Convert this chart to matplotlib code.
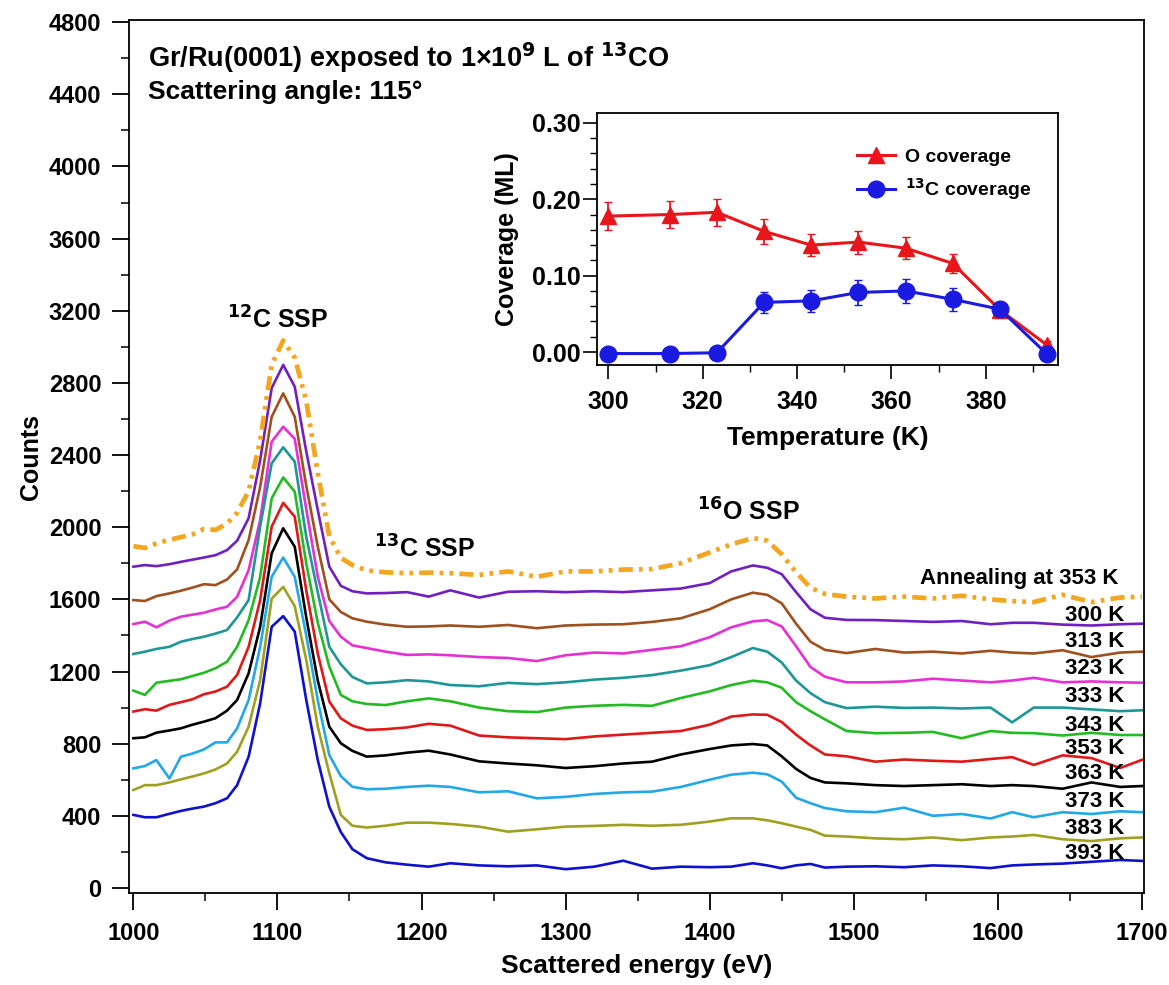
import numpy as np
import matplotlib
matplotlib.use("Agg")
import matplotlib.pyplot as plt
from matplotlib.ticker import MultipleLocator

plt.rcParams['font.family'] = ['Liberation Sans', 'DejaVu Sans']
plt.rcParams['font.weight'] = 'bold'
plt.rcParams['mathtext.default'] = 'bf'

# ---- spectra: shared energy grid (eV) ----
energy = [1000, 1008, 1016, 1025, 1033, 1041, 1049, 1057, 1065, 1072,
          1080, 1088, 1096, 1104, 1112, 1120, 1128, 1136, 1144, 1152, 1162,
          1175, 1190, 1205, 1220, 1240, 1260, 1280, 1300, 1320, 1340, 1360, 1380, 1400,
          1415, 1430, 1440, 1450, 1460, 1470, 1480, 1495,
          1515, 1535, 1555, 1575, 1595, 1610, 1625, 1645, 1665, 1685, 1700]

annealing = [1895, 1885, 1910, 1930, 1945, 1960, 1990, 1985, 2020, 2080,
             2200, 2480, 2900, 3035, 2940, 2700, 2300, 1950, 1830, 1790, 1760,
             1750, 1745, 1748, 1745, 1735, 1755, 1725, 1755, 1755, 1765, 1768, 1800, 1860,
             1905, 1940, 1925, 1850, 1750, 1665, 1630, 1615,
             1605, 1615, 1605, 1620, 1600, 1590, 1585, 1625, 1585, 1610, 1615]
k300 = [1781, 1790, 1784, 1795, 1808, 1820, 1832, 1845, 1873, 1925,
        2050, 2372, 2771, 2900, 2779, 2420, 2095, 1781, 1675, 1645, 1633,
        1635, 1640, 1615, 1650, 1610, 1642, 1645, 1640, 1645, 1640, 1650, 1660, 1690,
        1755, 1788, 1775, 1740, 1640, 1545, 1498, 1486,
        1485, 1480, 1475, 1480, 1462, 1470, 1470, 1460, 1455, 1462, 1465]
k313 = [1596, 1591, 1618, 1633, 1648, 1665, 1684, 1679, 1710, 1766,
        1929, 2224, 2612, 2742, 2612, 2230, 1892, 1600, 1530, 1495, 1476,
        1460, 1448, 1450, 1455, 1448, 1458, 1440, 1455, 1460, 1462, 1475, 1495, 1545,
        1600, 1637, 1625, 1578, 1465, 1365, 1320, 1302,
        1325, 1305, 1310, 1300, 1315, 1305, 1300, 1318, 1280, 1305, 1310]
k323 = [1463, 1476, 1445, 1482, 1504, 1515, 1526, 1544, 1559, 1614,
        1762, 2040, 2474, 2557, 2490, 2100, 1726, 1480, 1393, 1345, 1330,
        1310, 1292, 1295, 1290, 1280, 1275, 1258, 1290, 1305, 1300, 1320, 1340, 1390,
        1445, 1478, 1485, 1450, 1340, 1225, 1171, 1140,
        1140, 1145, 1160, 1150, 1140, 1150, 1165, 1140, 1145, 1140, 1138]
k333 = [1297, 1310, 1325, 1337, 1365, 1380, 1393, 1410, 1430, 1500,
        1596, 2003, 2354, 2443, 2363, 1947, 1640, 1337, 1240, 1170, 1134,
        1140, 1152, 1145, 1125, 1118, 1137, 1130, 1140, 1155, 1165, 1180, 1205, 1235,
        1280, 1330, 1310, 1250, 1150, 1080, 1030, 997,
        1005, 998, 1000, 995, 1000, 918, 1000, 1000, 990, 980, 985]
k343 = [1094, 1070, 1138, 1148, 1157, 1175, 1193, 1218, 1254, 1337,
        1485, 1725, 2160, 2276, 2197, 1800, 1470, 1227, 1070, 1035, 1020,
        1014, 1035, 1051, 1035, 1000, 980, 975, 1000, 1010, 1015, 1010, 1053, 1090,
        1125, 1149, 1140, 1110, 1030, 980, 935, 870,
        858, 860, 865, 830, 870, 860, 858, 845, 860, 848, 848]
k353 = [978, 991, 983, 1015, 1030, 1046, 1074, 1089, 1116, 1181,
        1337, 1596, 2003, 2135, 2058, 1650, 1300, 1033, 940, 900, 876,
        880, 890, 910, 900, 845, 835, 830, 825, 840, 850, 860, 870, 905,
        950, 962, 960, 920, 850, 790, 740, 730,
        700, 712, 705, 700, 715, 725, 682, 735, 720, 665, 710]
k363 = [830, 835, 861, 873, 885, 905, 922, 941, 983, 1042,
        1190, 1448, 1855, 1994, 1892, 1500, 1150, 894, 802, 760, 728,
        735, 750, 761, 740, 702, 690, 680, 665, 675, 690, 700, 740, 770,
        790, 798, 790, 730, 660, 610, 585, 580,
        570, 565, 570, 575, 565, 570, 565, 550, 585, 560, 565]
k373 = [663, 676, 709, 607, 728, 745, 768, 807, 807, 885,
        1042, 1337, 1725, 1832, 1725, 1400, 1040, 737, 620, 561, 547,
        550, 560, 567, 560, 530, 536, 497, 505, 521, 530, 534, 560, 600,
        628, 639, 630, 590, 500, 470, 443, 425,
        420, 445, 400, 410, 385, 420, 392, 420, 410, 425, 420]
k383 = [543, 570, 570, 585, 602, 618, 635, 657, 690, 755,
        894, 1153, 1604, 1669, 1562, 1264, 894, 636, 405, 345, 335,
        345, 362, 362, 355, 340, 312, 325, 340, 344, 350, 345, 350, 368,
        386, 386, 375, 359, 340, 322, 290, 285,
        275, 270, 280, 265, 280, 285, 294, 270, 260, 275, 280]
k393 = [405, 392, 392, 411, 427, 440, 451, 470, 497, 570,
        728, 1024, 1448, 1507, 1421, 1042, 709, 450, 310, 215, 165,
        142, 129, 118, 137, 125, 120, 125, 104, 118, 151, 107, 118, 115,
        118, 137, 125, 109, 125, 133, 113, 118,
        120, 115, 125, 120, 110, 125, 130, 135, 145, 155, 150]

spectra = [k300, k313, k323, k333, k343, k353, k363, k373, k383, k393]
temp_labels = ['300 K', '313 K', '323 K', '333 K', '343 K', '353 K',
               '363 K', '373 K', '383 K', '393 K']
colors = ['#7020C0', '#A0501E', '#E630D6', '#1E9696', '#22BB22', '#E01818',
          '#000000', '#22A8E8', '#A0A020', '#1010D0']
label_y = [1513, 1365, 1219, 1060, 903, 774, 636, 478, 331, 192]

# ---- inset: coverage vs temperature ----
temps = [300, 313, 323, 333, 343, 353, 363, 373, 383, 393]
o_cov = [0.178, 0.180, 0.183, 0.158, 0.140, 0.144, 0.136, 0.116, 0.055, 0.009]
o_err = [0.018, 0.018, 0.018, 0.016, 0.014, 0.015, 0.014, 0.012, 0.010, 0.005]
c_cov = [-0.002, -0.002, -0.001, 0.065, 0.067, 0.078, 0.080, 0.069, 0.056, -0.003]
c_err = [0.002, 0.002, 0.002, 0.014, 0.014, 0.016, 0.016, 0.015, 0.007, 0.003]

fig = plt.figure(figsize=(11.69, 9.85), dpi=100)
ax = fig.add_axes([0.1104, 1 - 893 / 985, 0.8682, 873 / 985])

for vals, c in zip(spectra, colors):
    ax.plot(energy, vals, color=c, lw=1.9)
ax.plot(energy, annealing, color='#F4A621', lw=3.4,
        linestyle=(0, (3, 1.3, 0.8, 1.3, 0.8, 1.3)))

for lab, yy in zip(temp_labels, label_y):
    ax.text(1688, yy, lab, ha='right', va='center', fontsize=16, fontweight='bold')
ax.text(1684, 1718, 'Annealing at 353 K', ha='right', va='center',
        fontsize=16, fontweight='bold')

ax.text(1100, 3150, r'$^{12}$C SSP', ha='center', va='center', fontsize=18, fontweight='bold')
ax.text(1202, 1880, r'$^{13}$C SSP', ha='center', va='center', fontsize=18, fontweight='bold')
ax.text(1427, 2085, r'$^{16}$O SSP', ha='center', va='center', fontsize=18, fontweight='bold')
ax.text(1010, 4600, r'Gr/Ru(0001) exposed to 1×10$^{9}$ L of $^{13}$CO',
        ha='left', va='center', fontsize=19.5, fontweight='bold')
ax.text(1010, 4415, 'Scattering angle: 115°', ha='left', va='center',
        fontsize=19, fontweight='bold')

ax.set_xlim(997, 1701.5)
ax.set_ylim(-28, 4812)
ax.xaxis.set_major_locator(MultipleLocator(100))
ax.xaxis.set_minor_locator(MultipleLocator(50))
ax.yaxis.set_major_locator(MultipleLocator(400))
ax.yaxis.set_minor_locator(MultipleLocator(200))
ax.tick_params(which='major', direction='out', length=12, width=1.3, labelsize=17)
ax.tick_params(axis='x', which='major', pad=9)
ax.tick_params(axis='y', which='major', pad=8)
ax.tick_params(which='minor', direction='out', length=6, width=1.1)
for s in ax.spines.values():
    s.set_linewidth(1.3)
ax.set_xlabel('Scattered energy (eV)', fontsize=19, fontweight='bold', labelpad=6)
ax.set_ylabel('Counts', fontsize=18, fontweight='bold', labelpad=4)

# inset
ins = fig.add_axes([597 / 1169, 1 - 365 / 985, 461 / 1169, 252 / 985])
ins.errorbar(temps, o_cov, yerr=o_err, fmt='none', ecolor='#E8161B',
             capsize=3, elinewidth=1.3)
ins.errorbar(temps, c_cov, yerr=c_err, fmt='none', ecolor='#1A1AE0',
             capsize=3, elinewidth=1.3)
ins.plot(temps, o_cov, color='#E8161B', marker='^', ms=12, lw=2.2, label='O coverage')
ins.plot(temps, c_cov, color='#1A1AE0', marker='o', ms=12, lw=2.2,
         label=r'$^{13}$C coverage')
ins.set_xlim(297.6, 395.3)
ins.set_ylim(-0.017, 0.313)
ins.xaxis.set_major_locator(MultipleLocator(20))
ins.xaxis.set_minor_locator(MultipleLocator(10))
ins.yaxis.set_major_locator(MultipleLocator(0.1))
ins.yaxis.set_minor_locator(MultipleLocator(0.02))
ins.yaxis.set_major_formatter(plt.FormatStrFormatter('%.2f'))
ins.tick_params(axis='x', which='major', direction='out', length=10, width=1.2,
                labelsize=18, pad=8)
ins.tick_params(axis='y', which='major', direction='out', length=10, width=1.2,
                labelsize=18, pad=2)
ins.tick_params(which='minor', direction='out', length=5, width=1.0)
for s in ins.spines.values():
    s.set_linewidth(1.3)
ins.set_xlabel('Temperature (K)', fontsize=19, fontweight='bold', labelpad=9)
ins.set_ylabel('Coverage (ML)', fontsize=18, fontweight='bold', labelpad=9)
leg = ins.legend(loc='upper left', bbox_to_anchor=(0.525, 0.93), frameon=False,
                 fontsize=14, handlelength=2.0, labelspacing=0.55, handletextpad=0.5)

fig.savefig('out.png', dpi=100)
